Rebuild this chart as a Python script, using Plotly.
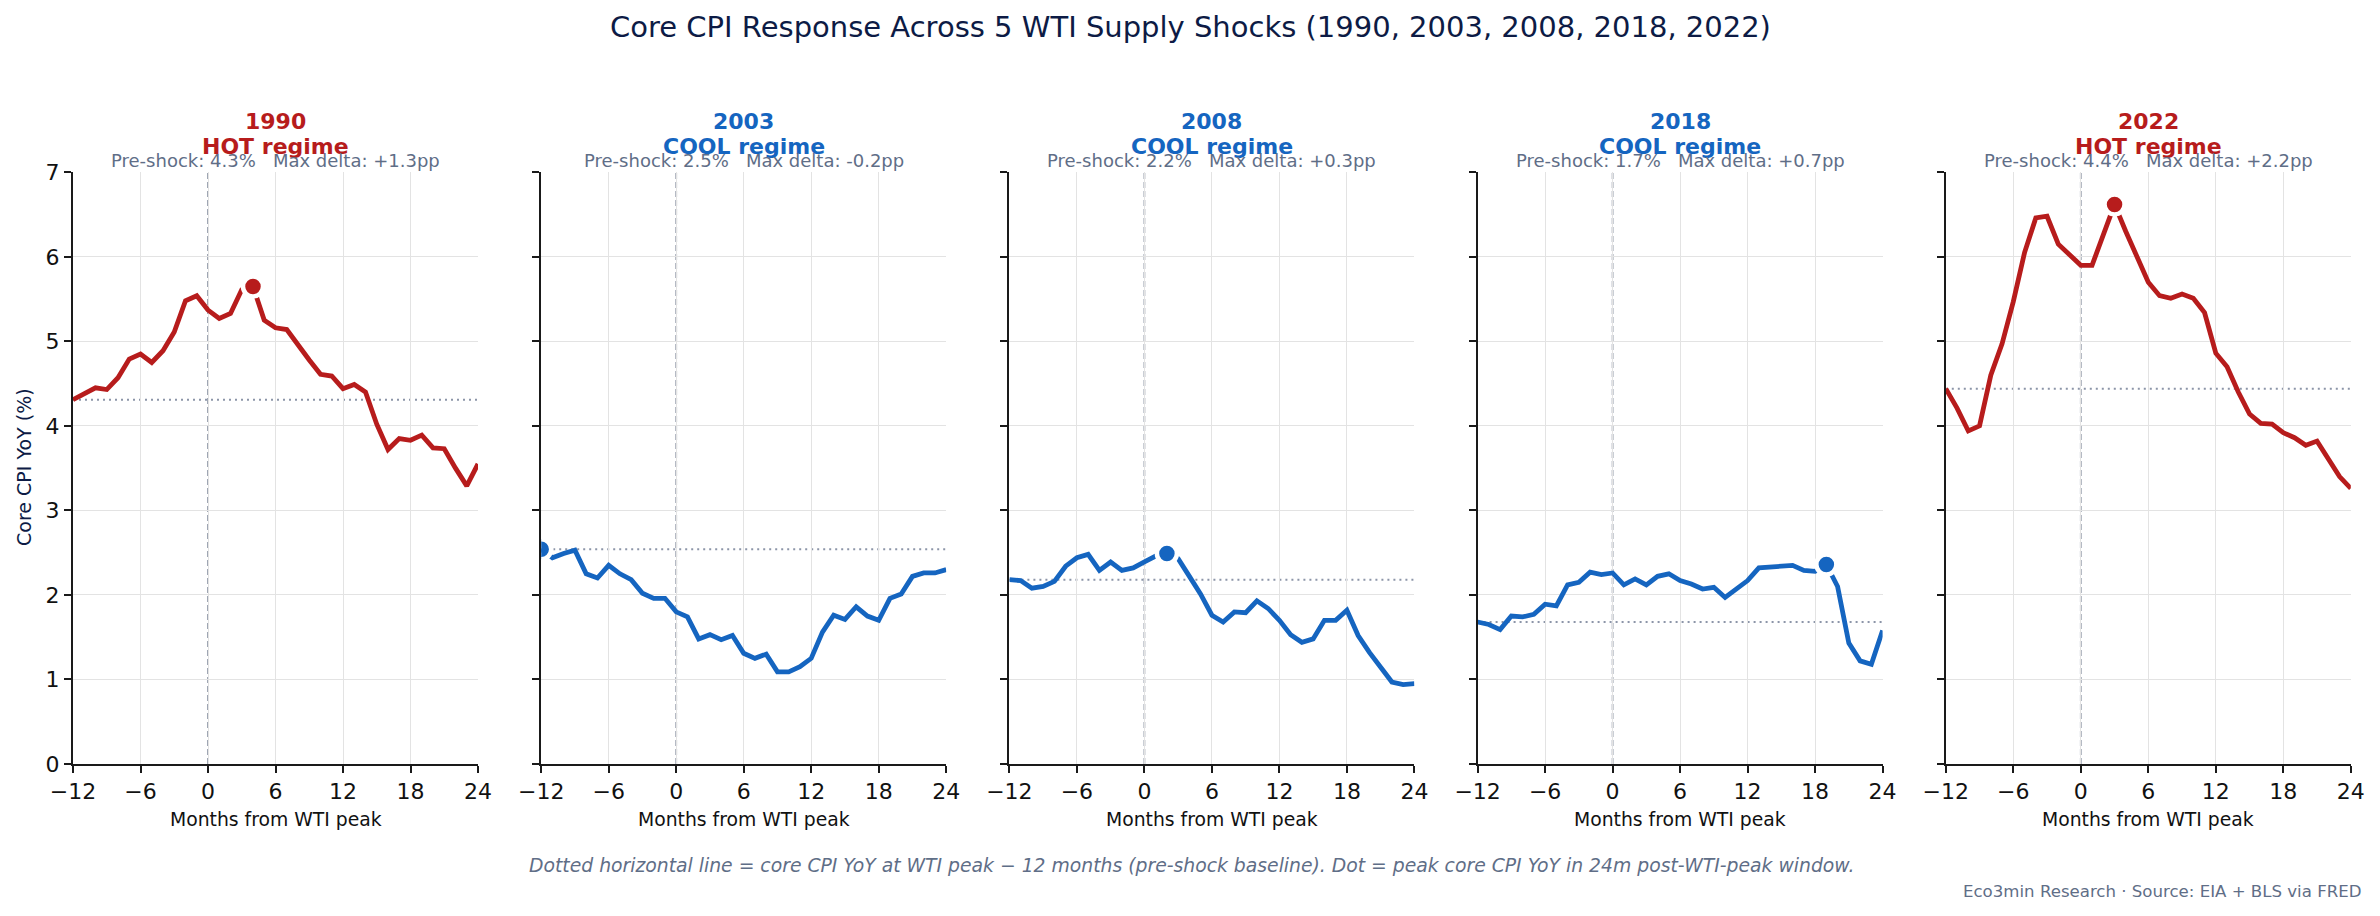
import plotly.graph_objects as go

# ---------------- data ----------------
MONTHS = list(range(-12, 25))
X_TICKS = [-12, -6, 0, 6, 12, 18, 24]
X_TICK_TEXT = ["\u221212", "\u22126", "0", "6", "12", "18", "24"]
Y_TICKS = [0, 1, 2, 3, 4, 5, 6, 7]

YEARS = ["1990", "2003", "2008", "2018", "2022"]
REGIMES = ["HOT", "COOL", "COOL", "COOL", "HOT"]
PRESHOCK = [4.31, 2.54, 2.18, 1.68, 4.44]
MAX_DELTA = [1.3, -0.2, 0.3, 0.7, 2.2]
PEAK_MONTH = [4, -12, 2, 19, 3]

CPI_1990 = [4.31, 4.38, 4.45, 4.43, 4.57, 4.79, 4.85, 4.75, 4.89, 5.11, 5.48, 5.54,
            5.37, 5.27, 5.33, 5.61, 5.65, 5.25, 5.16, 5.14, 4.95, 4.78, 4.61, 4.59,
            4.44, 4.49, 4.40, 4.02, 3.72, 3.85, 3.83, 3.89, 3.74, 3.73, 3.50, 3.29, 3.55]
CPI_2003 = [2.54, 2.44, 2.49, 2.53, 2.25, 2.20, 2.35, 2.25, 2.18, 2.02, 1.96, 1.96,
            1.80, 1.74, 1.48, 1.53, 1.47, 1.52, 1.31, 1.25, 1.30, 1.09, 1.09, 1.15,
            1.25, 1.56, 1.76, 1.71, 1.86, 1.75, 1.70, 1.96, 2.01, 2.22, 2.26, 2.26, 2.30]
CPI_2008 = [2.18, 2.17, 2.08, 2.10, 2.16, 2.34, 2.44, 2.48, 2.29, 2.39, 2.29, 2.32,
            2.39, 2.46, 2.49, 2.43, 2.22, 2.01, 1.76, 1.68, 1.80, 1.79, 1.93, 1.84,
            1.70, 1.53, 1.44, 1.48, 1.70, 1.70, 1.82, 1.52, 1.32, 1.14, 0.97, 0.94, 0.95]
CPI_2018 = [1.68, 1.65, 1.59, 1.75, 1.74, 1.77, 1.89, 1.87, 2.12, 2.15, 2.27, 2.24,
            2.26, 2.12, 2.19, 2.12, 2.22, 2.25, 2.17, 2.13, 2.07, 2.09, 1.97, 2.07,
            2.17, 2.32, 2.33, 2.33, 2.35, 2.29, 2.28, 2.36, 2.10, 1.43, 1.22, 1.18, 1.58]
CPI_2022 = [4.44, 4.21, 3.94, 4.00, 4.60, 4.97, 5.47, 6.05, 6.46, 6.48, 6.15, 6.02,
            5.90, 5.90, 6.27, 6.62, 6.30, 5.99, 5.70, 5.54, 5.51, 5.56, 5.51, 5.34,
            4.86, 4.70, 4.40, 4.14, 4.03, 4.02, 3.92, 3.86, 3.77, 3.82, 3.61, 3.40, 3.26]

SERIES = [CPI_1990, CPI_2003, CPI_2008, CPI_2018, CPI_2022]

TITLE = "Core CPI Response Across 5 WTI Supply Shocks (1990, 2003, 2008, 2018, 2022)"
X_TITLE = "Months from WTI peak"
Y_TITLE = "Core CPI YoY (%)"
FOOTNOTE = ("Dotted horizontal line = core CPI YoY at WTI peak \u2212 12 months (pre-shock baseline). "
            "Dot = peak core CPI YoY in 24m post-WTI-peak window.")
SOURCE = "Eco3min Research \u00b7 Source: EIA + BLS via FRED"

# ---------------- styling ----------------
W, H = 2380, 916
FONT = "DejaVu Sans"
COLORS = {"HOT": "#B71C1C", "COOL": "#1565C0"}
NAVY = "#0D1B45"
GREY_TXT = "#5F6E87"

PLOT_TOP, PLOT_BOT = 172.3, 764.0
PANEL_X0, PANEL_STEP, PANEL_W = 73.0, 468.2, 405.0


def px(x):
    return x / W


def py(y):
    return 1 - y / H


fig = go.Figure()
annotations = []
shapes = []

for i, (yr, reg, pre, md, pk, vals) in enumerate(
        zip(YEARS, REGIMES, PRESHOCK, MAX_DELTA, PEAK_MONTH, SERIES)):
    n = "" if i == 0 else str(i + 1)
    xa, ya = "x" + n, "y" + n
    col = COLORS[reg]
    x0 = PANEL_X0 + i * PANEL_STEP
    x1 = x0 + PANEL_W
    cx = (x0 + x1) / 2

    fig.add_trace(go.Scatter(x=MONTHS, y=vals, mode="lines", xaxis=xa, yaxis=ya,
                             line=dict(color=col, width=4.8), showlegend=False,
                             hoverinfo="skip"))
    pk_val = vals[MONTHS.index(pk)]
    fig.add_trace(go.Scatter(x=[pk], y=[pk_val], mode="markers", xaxis=xa, yaxis=ya,
                             marker=dict(color=col, size=20,
                                         line=dict(color="white", width=4.5)),
                             showlegend=False, hoverinfo="skip"))

    # zero line (dashed vertical) and baseline (dotted horizontal)
    shapes.append(dict(type="line", xref=xa, yref=ya + " domain", x0=0, x1=0, y0=0, y1=1,
                       line=dict(color="#969DAC", width=1.8, dash="6px,3px"), layer="below"))
    shapes.append(dict(type="line", xref=xa + " domain", yref=ya, x0=0, x1=1, y0=pre, y1=pre,
                       line=dict(color="#8C95A8", width=1.9, dash="2px,4px"), layer="below"))

    axis_common = dict(showline=True, linecolor="#1a1a1a", linewidth=2,
                       ticks="outside", ticklen=7, tickwidth=1.8, tickcolor="#1a1a1a",
                       showgrid=True, gridcolor="#E3E3E3", gridwidth=1,
                       zeroline=False, automargin=False,
                       tickfont=dict(family=FONT, size=22, color="#111111"))
    fig.layout["xaxis" + n] = dict(domain=[px(x0), px(x1)], anchor=ya, range=[-12, 24],
                                   tickmode="array", tickvals=X_TICKS, ticktext=X_TICK_TEXT,
                                   **axis_common)
    fig.layout["yaxis" + n] = dict(domain=[py(PLOT_BOT), py(PLOT_TOP)], anchor=xa, range=[0, 7],
                                   tickmode="array", tickvals=Y_TICKS,
                                   showticklabels=(i == 0), **axis_common)

    annotations.append(dict(x=px(cx), y=py(121.5), xref="paper", yref="paper",
                            text="<b>" + yr + "</b>", showarrow=False, xanchor="center",
                            yanchor="middle", font=dict(family=FONT, size=22, color=col)))
    annotations.append(dict(x=px(cx), y=py(146.5), xref="paper", yref="paper",
                            text="<b>" + reg + " regime</b>", showarrow=False, xanchor="center",
                            yanchor="middle", font=dict(family=FONT, size=22, color=col)))
    sub = "Pre-shock: {:.1f}%\u00a0\u00a0\u00a0Max delta: {:+.1f}pp".format(pre, md)
    annotations.append(dict(x=px(cx), y=py(160.5), xref="paper", yref="paper",
                            text=sub, showarrow=False, xanchor="center",
                            yanchor="middle", font=dict(family=FONT, size=18, color=GREY_TXT)))
    annotations.append(dict(x=px(cx), y=py(819), xref="paper", yref="paper",
                            text=X_TITLE, showarrow=False, xanchor="center",
                            yanchor="middle", font=dict(family=FONT, size=18.8, color="#111111")))

annotations.append(dict(x=0.5, y=py(27), xref="paper", yref="paper", text=TITLE,
                        showarrow=False, xanchor="center", yanchor="middle",
                        font=dict(family=FONT, size=29, color=NAVY)))
annotations.append(dict(x=px(24), y=py(467), xref="paper", yref="paper", text=Y_TITLE,
                        showarrow=False, xanchor="center", yanchor="middle", textangle=-90,
                        font=dict(family=FONT, size=19, color=NAVY)))
annotations.append(dict(x=px(1191), y=py(865), xref="paper", yref="paper",
                        text="<i>" + FOOTNOTE + "</i>",
                        showarrow=False, xanchor="center", yanchor="middle",
                        font=dict(family=FONT, size=18.8, color=GREY_TXT)))
annotations.append(dict(x=px(2364), y=py(891), xref="paper", yref="paper", text=SOURCE,
                        showarrow=False, xanchor="right", yanchor="middle",
                        font=dict(family=FONT, size=16.6, color=GREY_TXT)))

fig.update_layout(width=W, height=H, margin=dict(l=0, r=0, t=0, b=0, autoexpand=False),
                  paper_bgcolor="white", plot_bgcolor="white",
                  annotations=annotations, shapes=shapes, showlegend=False,
                  font=dict(family=FONT))

fig.write_html("out.html")
